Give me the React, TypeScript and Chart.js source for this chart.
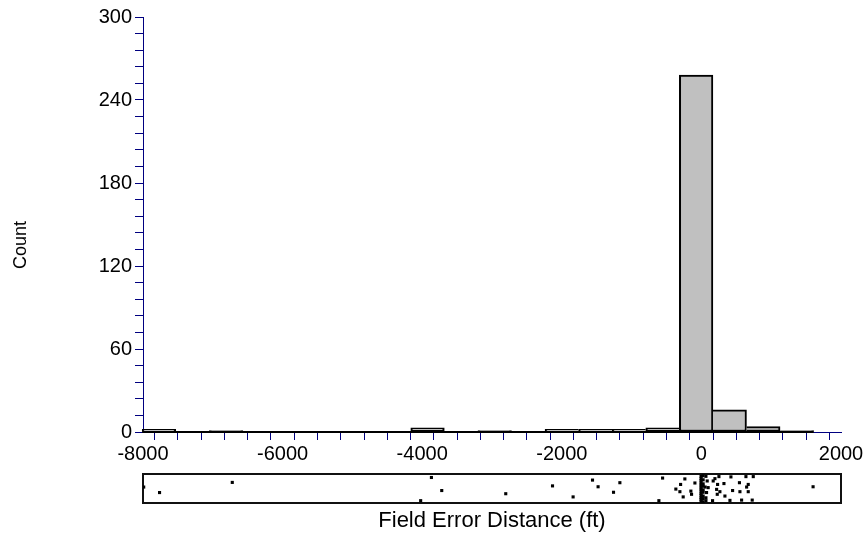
import React, { useEffect, useRef } from 'react';
import { Chart, registerables } from 'chart.js';
Chart.register(...registerables);

// Histogram bins
const binStart = -8012;
const binWidth = 481;
const counts = [2, 0, 1, 0, 0, 0, 0, 0, 3, 0, 1, 0, 2, 2, 2, 3, 258, 16, 4, 1];

// Axis tick labels
const xMajorTicks = [-8000, -6000, -4000, -2000, 0, 2000];
const xMinorIntervals = 6;
const yMajorTicks = [0, 60, 120, 180, 240, 300];
const yMinorIntervals = 5;

// Rug (individual observations): x value in ft, vertical jitter 0..1
const rugX = [
  -7990, -7763, -6721, -4022, -3868, -3720, -2803, -2133, -1838, -1560, -1480, -1259, -1168,
  -609, -556, -366, -308, -298, -261, -237, -151, -141, -93,
  -5, -5, -5, -5, -5, -5, -5, -5, -5, -5, -5, -5, -5,
  25, 25, 25, 25, 25, 25, 25, 25, 25,
  54, 65, 65, 65, 74, 83, 97, 160, 169, 194, 218, 227, 232, 251, 265, 323, 337,
  409, 423, 447, 545, 552, 576, 638, 648, 671, 671, 728, 743, 1600,
];
const rugY = [
  0.55, 0.36, 0.71, 0.08, 0.88, 0.43, 0.32, 0.59, 0.21, 0.79, 0.56, 0.37, 0.70,
  0.08, 0.86, 0.48, 0.39, 0.64, 0.21, 0.83, 0.41, 0.30, 0.69,
  0.06, 0.13, 0.19, 0.27, 0.33, 0.41, 0.48, 0.55, 0.62, 0.69, 0.77, 0.84, 0.92,
  0.04, 0.15, 0.24, 0.37, 0.45, 0.58, 0.66, 0.80, 0.94,
  0.55, 0.92, 0.18, 0.08, 0.36, 0.76, 0.53, 0.08, 0.76, 0.84, 0.47, 0.30, 0.64, 0.91, 0.39, 0.67, 0.24,
  0.09, 0.90, 0.43, 0.70, 0.39, 0.10, 0.91, 0.55, 0.64, 0.39, 0.10, 0.91, 0.56,
];

function buildTicks(majors: number[], intervals: number) {
  const out: number[] = [];
  for (let i = 0; i < majors.length - 1; i++) {
    const step = (majors[i + 1] - majors[i]) / intervals;
    for (let j = 0; j < intervals; j++) out.push(majors[i] + j * step);
  }
  out.push(majors[majors.length - 1]);
  return out;
}
const xTicks = buildTicks(xMajorTicks, xMinorIntervals);
const yTicks = buildTicks(yMajorTicks, yMinorIntervals);
const isMajor = (v: number, majors: number[]) => majors.some((m) => Math.abs(m - v) < 1e-6);

const FAMILY = "'Liberation Sans', Arial, Helvetica, sans-serif";

export default function App() {
  const histRef = useRef<HTMLCanvasElement>(null);
  const rugRef = useRef<HTMLCanvasElement>(null);

  useEffect(() => {
    document.body.style.margin = '0';
    Chart.defaults.font.family = FAMILY;
    const font = { family: FAMILY, size: 20 };
    const titleFont = { family: FAMILY, size: 22 };
    const axisColor = '#000080';

    const h = new Chart(histRef.current!, {
      type: 'bar',
      data: {
        datasets: [
          {
            type: 'line',
            data: [
              { x: binStart, y: 0 },
              { x: binStart + binWidth * counts.length, y: 0 },
            ],
            borderColor: '#000',
            borderWidth: 2,
            pointRadius: 0,
            clip: false,
            order: 0,
          } as any,
          {
            type: 'bar',
            data: counts.map((c, i) => ({ x: binStart + binWidth * (i + 0.5), y: c })),
            backgroundColor: '#c0c0c0',
            borderColor: '#000',
            borderSkipped: false,
            borderWidth: (ctx: any) => {
              const i = ctx.dataIndex;
              const c = counts[i];
              const prev = i > 0 ? counts[i - 1] : 0;
              const next = i < counts.length - 1 ? counts[i + 1] : 0;
              return { top: 2, bottom: 2, left: c >= prev ? 2 : 0, right: c > next ? 2 : 0 };
            },
            barThickness: 'flex',
            barPercentage: 1,
            categoryPercentage: 1,
            clip: false,
            order: 1,
          } as any,
        ],
      },
      options: {
        animation: false,
        responsive: false,
        maintainAspectRatio: false,
        layout: { padding: { left: 0, right: 26, top: 17, bottom: 0 } },
        plugins: { legend: { display: false }, tooltip: { enabled: false } },
        scales: {
          x: {
            type: 'linear',
            min: -8000,
            max: 2000,
            offset: false,
            afterBuildTicks: (s: any) => {
              s.ticks = xTicks.map((v) => ({ value: v }));
            },
            afterFit: (s: any) => {
              s.height = 38;
            },
            ticks: {
              autoSkip: false,
              maxRotation: 0,
              color: '#000',
              font,
              padding: 2,
              callback: (v: any) => (isMajor(Number(v), xMajorTicks) ? String(Math.round(Number(v))) : ''),
            },
            grid: { display: true, drawOnChartArea: false, drawTicks: true, tickLength: 8, color: axisColor },
            border: { display: true, color: axisColor, width: 1 },
          },
          y: {
            type: 'linear',
            min: 0,
            max: 300,
            afterBuildTicks: (s: any) => {
              s.ticks = yTicks.map((v) => ({ value: v }));
            },
            afterFit: (s: any) => {
              s.width = 143;
            },
            ticks: {
              autoSkip: false,
              color: '#000',
              font,
              padding: 3,
              callback: (v: any) => (isMajor(Number(v), yMajorTicks) ? String(Math.round(Number(v))) : ''),
            },
            grid: { display: true, drawOnChartArea: false, drawTicks: true, tickLength: 8, color: axisColor },
            border: { display: true, color: axisColor, width: 1 },
          },
        },
      } as any,
    });

    const boxPlugin = {
      id: 'rugBox',
      beforeDatasetsDraw(chart: any) {
        const { ctx, chartArea } = chart;
        ctx.save();
        ctx.strokeStyle = '#111';
        ctx.lineWidth = 2;
        ctx.strokeRect(chartArea.left, chartArea.top, chartArea.right - chartArea.left, chartArea.bottom - chartArea.top);
        ctx.restore();
      },
    };

    const r = new Chart(rugRef.current!, {
      type: 'scatter',
      data: {
        datasets: [
          {
            data: rugX.map((x, i) => ({ x, y: rugY[i] })),
            pointStyle: 'rect',
            pointRadius: 2.2,
            backgroundColor: '#000',
            borderWidth: 0,
          } as any,
        ],
      },
      options: {
        animation: false,
        responsive: false,
        maintainAspectRatio: false,
        layout: { padding: { left: 143, right: 26, top: 8, bottom: 0 } },
        plugins: { legend: { display: false }, tooltip: { enabled: false } },
        scales: {
          x: {
            type: 'linear',
            min: -8000,
            max: 2000,
            ticks: { display: false },
            grid: { display: false },
            border: { display: false },
            title: {
              display: true,
              text: 'Field Error Distance (ft)',
              color: '#000',
              font: titleFont,
              padding: { top: 0, bottom: 10 },
            },
            afterFit: (s: any) => {
              s.height = 41;
            },
          },
          y: { display: false, min: 0, max: 1 },
        },
      } as any,
      plugins: [boxPlugin],
    });

    return () => {
      h.destroy();
      r.destroy();
    };
  }, []);

  return (
    <div style={{ position: 'relative', width: 867, height: 544, background: '#fff' }}>
      <canvas ref={histRef} width={867} height={470} style={{ position: 'absolute', left: 0, top: 0 }} />
      <canvas ref={rugRef} width={867} height={78} style={{ position: 'absolute', left: 0, top: 466 }} />
      <div
        style={{
          position: 'absolute',
          left: 20,
          top: 245,
          transform: 'translate(-50%, -50%) rotate(-90deg)',
          fontFamily: FAMILY,
          fontSize: 18,
          lineHeight: '20px',
          whiteSpace: 'nowrap',
          color: '#000',
        }}
      >
        Count
      </div>
    </div>
  );
}
